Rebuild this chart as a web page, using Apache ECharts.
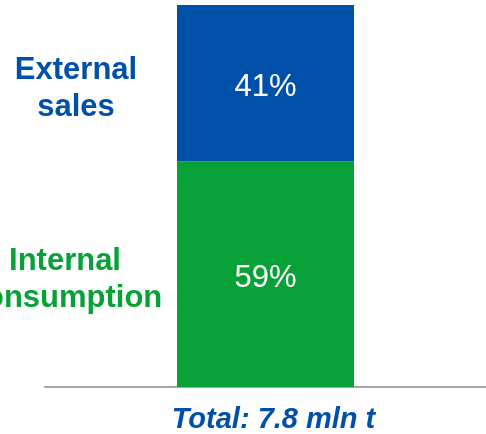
<!DOCTYPE html>
<html>
<head>
<meta charset="utf-8">
<script src="https://cdn.jsdelivr.net/npm/echarts@6/dist/echarts.min.js"></script>
<style>
  html, body { margin: 0; padding: 0; background: #fff; }
  #chart { width: 486px; height: 434px; }
</style>
</head>
<body>
<div id="chart"></div>
<script>
const categories = ['Total: 7.8 mln t'];
const internalShare = [59];
const externalShare = [41];
const sideLabels = ['External\nsales', 'Internal\nconsumption'];

const blue = '#0050A9';
const green = '#07A137';
const font = 'Liberation Sans, Arial, sans-serif';

var myChart = echarts.init(document.getElementById('chart'));

const pctLabel = {
  show: true,
  position: 'inside',
  offset: [0, 4],
  color: '#fff',
  fontSize: 31,
  fontFamily: font,
  formatter: '{c}%'
};

myChart.setOption({
  animation: false,
  grid: { left: 45, right: 0, top: 5, bottom: 47, containLabel: false },
  xAxis: {
    type: 'category',
    data: categories,
    axisLine: { show: true, lineStyle: { color: '#a6a6a6', width: 2 } },
    axisTick: { show: false },
    axisLabel: {
      margin: 18,
      padding: [0, 0, 0, 16],
      color: blue,
      fontSize: 29,
      fontWeight: 'bold',
      fontStyle: 'italic',
      fontFamily: font
    }
  },
  yAxis: {
    type: 'value',
    min: 0,
    max: 100,
    show: false
  },
  series: [
    {
      name: 'Internal consumption',
      type: 'bar',
      stack: 'total',
      barWidth: 177,
      data: internalShare,
      itemStyle: { color: green },
      label: pctLabel
    },
    {
      name: 'External sales',
      type: 'bar',
      stack: 'total',
      barWidth: 177,
      data: externalShare,
      itemStyle: { color: blue },
      label: pctLabel
    }
  ],
  graphic: [
    {
      type: 'text',
      x: 76,
      y: 89,
      style: {
        text: sideLabels[0],
        fill: blue,
        fontSize: 31,
        fontWeight: 'bold',
        fontFamily: font,
        lineHeight: 37,
        align: 'center',
        verticalAlign: 'middle'
      }
    },
    {
      type: 'text',
      x: 65,
      y: 280,
      style: {
        text: sideLabels[1],
        fill: green,
        fontSize: 31,
        fontWeight: 'bold',
        fontFamily: font,
        lineHeight: 37,
        align: 'center',
        verticalAlign: 'middle'
      }
    }
  ]
});
</script>
</body>
</html>
